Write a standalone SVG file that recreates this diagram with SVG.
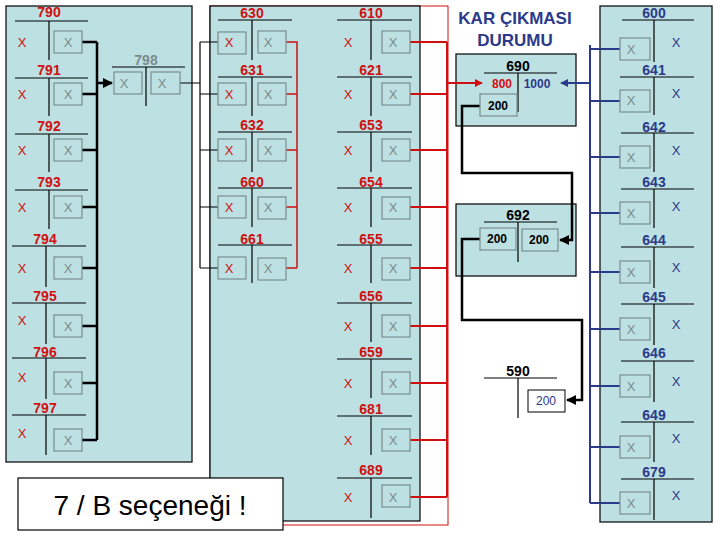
<svg xmlns="http://www.w3.org/2000/svg" width="720" height="540" viewBox="0 0 720 540">
<defs>
<style>
.pan{fill:#bde0e3;stroke:#000;stroke-width:1.2}
.ln{stroke:#000;stroke-width:1.2;fill:none}
.bx{fill:#bde0e3;stroke:#7a8c8e;stroke-width:1.2}
.lbR{font:bold 14px "Liberation Sans",Arial,sans-serif;fill:#d01010;text-anchor:middle}
.lbB{font:bold 14px "Liberation Sans",Arial,sans-serif;fill:#2b3a8a;text-anchor:middle}
.lbK{font:bold 14px "Liberation Sans",Arial,sans-serif;fill:#000;text-anchor:middle}
.lbG{font:bold 14px "Liberation Sans",Arial,sans-serif;fill:#7a8c8e;text-anchor:middle}
.xr{font:13px "Liberation Sans",Arial,sans-serif;fill:#d01010;text-anchor:middle}
.xg{font:13px "Liberation Sans",Arial,sans-serif;fill:#7a8c8e;text-anchor:middle}
.xb{font:13px "Liberation Sans",Arial,sans-serif;fill:#2b3a8a;text-anchor:middle}
.bk{stroke:#000;stroke-width:2.5;fill:none}
.rd{stroke:#d01010;stroke-width:2;fill:none}
.bl{stroke:#2b3a8a;stroke-width:2;fill:none}
</style>
<marker id="ak" viewBox="0 0 10 10" refX="9" refY="5" markerWidth="4" markerHeight="4" orient="auto"><path d="M0,0L10,5L0,10z" fill="#000"/></marker>
<marker id="ar" viewBox="0 0 10 10" refX="9" refY="5" markerWidth="4" markerHeight="4" orient="auto"><path d="M0,0L10,5L0,10z" fill="#d01010"/></marker>
<marker id="ab" viewBox="0 0 10 10" refX="9" refY="5" markerWidth="4" markerHeight="4" orient="auto"><path d="M0,0L10,5L0,10z" fill="#2b3a8a"/></marker>
</defs>
<rect width="720" height="540" fill="#fff"/>
<rect x="210" y="6" width="238" height="519" fill="none" stroke="#d01010" stroke-width="1"/>
<rect class="pan" x="6" y="6" width="186" height="456"/>
<rect class="pan" x="210" y="6" width="210" height="515"/>
<rect class="pan" x="600" y="6" width="112" height="516"/>
<rect class="pan" x="456" y="54" width="120" height="72"/>
<rect class="pan" x="456" y="204" width="120" height="72"/>

<g id="connectors">
<path class="bk" d="M97,42V440M82,42H97M82,94H97M82,150H97M82,207H97M82,268H97M82,326H97M82,383H97M82,440H97"/>
<path class="bk" d="M97,83H112" marker-end="url(#ak)"/>
<path class="ln" d="M180,83H200M200,42V268M200,42H218M200,94H218M200,150H218M200,207H218M200,268H218"/>
<path class="rd" style="stroke-width:1.5" d="M286,42H297V268M286,94H297M286,150H297M286,207H297M286,268H297"/>
<path class="rd" d="M447,42V497M410,42H447M410,94H447M410,150H447M410,207H447M410,268H447M410,326H447M410,383H447M410,440H447M410,497H447"/>
<path class="rd" d="M447,83H482" marker-end="url(#ar)"/>
<path class="bl" d="M590,45V503M620,49H590M620,101H590M620,157H590M620,213H590M620,272H590M620,329H590M620,386H590M620,447H590M620,503H590"/>
<path class="bl" d="M590,83H561" marker-end="url(#ab)"/>
<path class="bk" d="M480,106H462V173H572V240H560" marker-end="url(#ak)"/>
<path class="bk" d="M480,239H462V320H582V400H567" marker-end="url(#ak)"/>
</g>

<g id="left">
<g id="n790"><text class="lbR" x="49" y="17">790</text><path class="ln" d="M15,21H88M49,21V60"/><text class="xr" x="22" y="47">X</text><rect class="bx" x="54" y="31" width="28" height="22"/><text class="xg" x="68" y="47">X</text></g>
<g id="n791"><text class="lbR" x="49" y="75">791</text><path class="ln" d="M15,78H88M49,78V116"/><text class="xr" x="22" y="99">X</text><rect class="bx" x="54" y="83" width="28" height="22"/><text class="xg" x="68" y="99">X</text></g>
<g id="n792"><text class="lbR" x="49" y="131">792</text><path class="ln" d="M15,134H88M49,134V172"/><text class="xr" x="22" y="155">X</text><rect class="bx" x="54" y="139" width="28" height="22"/><text class="xg" x="68" y="155">X</text></g>
<g id="n793"><text class="lbR" x="49" y="187">793</text><path class="ln" d="M15,190H88M49,190V229"/><text class="xr" x="22" y="212">X</text><rect class="bx" x="54" y="196" width="28" height="22"/><text class="xg" x="68" y="212">X</text></g>
<g id="n794"><text class="lbR" x="45" y="244">794</text><path class="ln" d="M12,246H86M46,246V287"/><text class="xr" x="22" y="273">X</text><rect class="bx" x="54" y="257" width="28" height="22"/><text class="xg" x="68" y="273">X</text></g>
<g id="n795"><text class="lbR" x="45" y="301">795</text><path class="ln" d="M12,303H86M46,303V344"/><text class="xr" x="22" y="325">X</text><rect class="bx" x="54" y="315" width="28" height="22"/><text class="xg" x="68" y="331">X</text></g>
<g id="n796"><text class="lbR" x="45" y="357">796</text><path class="ln" d="M12,358H86M46,358V399"/><text class="xr" x="22" y="382">X</text><rect class="bx" x="54" y="372" width="28" height="22"/><text class="xg" x="68" y="388">X</text></g>
<g id="n797"><text class="lbR" x="45" y="413">797</text><path class="ln" d="M12,415H86M46,415V455"/><text class="xr" x="22" y="438">X</text><rect class="bx" x="54" y="429" width="28" height="22"/><text class="xg" x="68" y="445">X</text></g>
<g id="n798"><text class="lbG" x="146" y="65">798</text><path class="ln" d="M112,67H185M146,67V106"/><rect class="bx" x="114" y="72" width="28" height="22"/><text class="xg" x="124" y="88">X</text><rect class="bx" x="151" y="72" width="29" height="22"/><text class="xg" x="162" y="88">X</text></g>
</g>

<g id="mid">
<g id="n630"><text class="lbR" x="252" y="18">630</text><path class="ln" d="M218,20H292M252,20V60"/><rect class="bx" x="218" y="32" width="28" height="22"/><text class="xr" x="229" y="47">X</text><rect class="bx" x="258" y="31" width="28" height="22"/><text class="xg" x="268" y="47">X</text></g>
<g id="n631"><text class="lbR" x="252" y="75">631</text><path class="ln" d="M218,77H292M252,77V116"/><rect class="bx" x="218" y="83" width="28" height="22"/><text class="xr" x="229" y="99">X</text><rect class="bx" x="258" y="83" width="28" height="22"/><text class="xg" x="268" y="99">X</text></g>
<g id="n632"><text class="lbR" x="252" y="130">632</text><path class="ln" d="M218,132H292M252,132V172"/><rect class="bx" x="218" y="139" width="28" height="22"/><text class="xr" x="229" y="155">X</text><rect class="bx" x="258" y="139" width="28" height="22"/><text class="xg" x="268" y="155">X</text></g>
<g id="n660"><text class="lbR" x="252" y="187">660</text><path class="ln" d="M218,188H292M252,188V227"/><rect class="bx" x="218" y="196" width="28" height="22"/><text class="xr" x="229" y="212">X</text><rect class="bx" x="258" y="197" width="28" height="22"/><text class="xg" x="268" y="212">X</text></g>
<g id="n661"><text class="lbR" x="252" y="244">661</text><path class="ln" d="M218,245H292M252,245V283"/><rect class="bx" x="218" y="257" width="28" height="22"/><text class="xr" x="229" y="273">X</text><rect class="bx" x="258" y="258" width="28" height="22"/><text class="xg" x="268" y="273">X</text></g>
<g id="n610"><text class="lbR" x="371" y="18">610</text><path class="ln" d="M337,20H412M371,20V60"/><text class="xr" x="348" y="47">X</text><rect class="bx" x="382" y="31" width="28" height="22"/><text class="xg" x="393" y="47">X</text></g>
<g id="n621"><text class="lbR" x="371" y="75">621</text><path class="ln" d="M337,77H412M371,77V116"/><text class="xr" x="348" y="99">X</text><rect class="bx" x="382" y="83" width="28" height="22"/><text class="xg" x="393" y="99">X</text></g>
<g id="n653"><text class="lbR" x="371" y="130">653</text><path class="ln" d="M337,132H412M371,132V172"/><text class="xr" x="348" y="155">X</text><rect class="bx" x="382" y="139" width="28" height="22"/><text class="xg" x="393" y="155">X</text></g>
<g id="n654"><text class="lbR" x="371" y="187">654</text><path class="ln" d="M337,188H412M371,188V227"/><text class="xr" x="348" y="212">X</text><rect class="bx" x="382" y="197" width="28" height="22"/><text class="xg" x="393" y="212">X</text></g>
<g id="n655"><text class="lbR" x="371" y="244">655</text><path class="ln" d="M337,245H412M371,245V283"/><text class="xr" x="348" y="273">X</text><rect class="bx" x="382" y="258" width="28" height="22"/><text class="xg" x="393" y="273">X</text></g>
<g id="n656"><text class="lbR" x="371" y="301">656</text><path class="ln" d="M337,303H412M371,303V342"/><text class="xr" x="348" y="331">X</text><rect class="bx" x="382" y="315" width="28" height="22"/><text class="xg" x="393" y="331">X</text></g>
<g id="n659"><text class="lbR" x="371" y="357">659</text><path class="ln" d="M337,359H412M371,359V398"/><text class="xr" x="348" y="388">X</text><rect class="bx" x="382" y="372" width="28" height="22"/><text class="xg" x="393" y="388">X</text></g>
<g id="n681"><text class="lbR" x="371" y="414">681</text><path class="ln" d="M337,416H412M371,416V455"/><text class="xr" x="348" y="445">X</text><rect class="bx" x="382" y="429" width="28" height="22"/><text class="xg" x="393" y="445">X</text></g>
<g id="n689"><text class="lbR" x="371" y="475">689</text><path class="ln" d="M337,478H412M371,478V518"/><text class="xr" x="348" y="502">X</text><rect class="bx" x="382" y="485" width="28" height="22"/><text class="xg" x="393" y="502">X</text></g>
</g>

<g id="title"><text x="515" y="24" style="font:bold 17px 'Liberation Sans',Arial,sans-serif;fill:#2b3a8a;text-anchor:middle">KAR ÇIKMASI</text><text x="515" y="46" style="font:bold 17px 'Liberation Sans',Arial,sans-serif;fill:#2b3a8a;text-anchor:middle">DURUMU</text></g>

<g id="n690"><text class="lbK" x="518" y="71">690</text><path class="ln" d="M484,73H557M518,73V112"/><text x="502" y="88" style="font:bold 12px 'Liberation Sans',Arial,sans-serif;fill:#d01010;text-anchor:middle">800</text><text x="537" y="88" style="font:bold 12px 'Liberation Sans',Arial,sans-serif;fill:#2b3a8a;text-anchor:middle">1000</text><rect class="bx" x="480" y="94" width="37" height="22"/><text x="498" y="110" style="font:bold 12px 'Liberation Sans',Arial,sans-serif;fill:#000;text-anchor:middle">200</text></g>
<g id="n692"><text class="lbK" x="518" y="220">692</text><path class="ln" d="M484,222H557M518,222V262"/><rect class="bx" x="480" y="228" width="36" height="22"/><text x="497" y="243" style="font:bold 12px 'Liberation Sans',Arial,sans-serif;fill:#000;text-anchor:middle">200</text><rect class="bx" x="522" y="229" width="36" height="22"/><text x="539" y="244" style="font:bold 12px 'Liberation Sans',Arial,sans-serif;fill:#000;text-anchor:middle">200</text></g>
<g id="n590"><text class="lbK" x="518" y="376">590</text><path class="ln" d="M484,378H557M518,378V418"/><rect x="528" y="390" width="37" height="22" fill="#fff" stroke="#000"/><text x="546" y="405" style="font:12px 'Liberation Sans',Arial,sans-serif;fill:#2b3a8a;text-anchor:middle">200</text></g>

<g id="right">
<g id="n600"><text class="lbB" x="654" y="18">600</text><path class="ln" d="M622,20H694M654,20V62"/><rect class="bx" x="620" y="38" width="30" height="22"/><text class="xg" x="631" y="54">X</text><text class="xb" x="676" y="47">X</text></g>
<g id="n641"><text class="lbB" x="654" y="75">641</text><path class="ln" d="M620,77H694M654,77V115"/><rect class="bx" x="620" y="90" width="30" height="22"/><text class="xg" x="631" y="105">X</text><text class="xb" x="676" y="98">X</text></g>
<g id="n642"><text class="lbB" x="654" y="132">642</text><path class="ln" d="M621,133H694M654,133V172"/><rect class="bx" x="620" y="146" width="30" height="22"/><text class="xg" x="631" y="162">X</text><text class="xb" x="676" y="155">X</text></g>
<g id="n643"><text class="lbB" x="654" y="187">643</text><path class="ln" d="M621,189H694M654,189V228"/><rect class="bx" x="620" y="202" width="30" height="22"/><text class="xg" x="631" y="218">X</text><text class="xb" x="676" y="211">X</text></g>
<g id="n644"><text class="lbB" x="654" y="245">644</text><path class="ln" d="M621,247H694M654,247V288"/><rect class="bx" x="620" y="261" width="30" height="22"/><text class="xg" x="631" y="277">X</text><text class="xb" x="676" y="272">X</text></g>
<g id="n645"><text class="lbB" x="654" y="302">645</text><path class="ln" d="M621,304H694M654,304V345"/><rect class="bx" x="620" y="318" width="30" height="22"/><text class="xg" x="631" y="334">X</text><text class="xb" x="676" y="329">X</text></g>
<g id="n646"><text class="lbB" x="654" y="358">646</text><path class="ln" d="M621,361H694M654,361V402"/><rect class="bx" x="620" y="375" width="30" height="22"/><text class="xg" x="631" y="391">X</text><text class="xb" x="676" y="386">X</text></g>
<g id="n649"><text class="lbB" x="654" y="420">649</text><path class="ln" d="M621,422H694M654,422V462"/><rect class="bx" x="620" y="436" width="30" height="22"/><text class="xg" x="631" y="452">X</text><text class="xb" x="676" y="443">X</text></g>
<g id="n679"><text class="lbB" x="654" y="477">679</text><path class="ln" d="M621,479H694M654,479V520"/><rect class="bx" x="620" y="492" width="30" height="22"/><text class="xg" x="631" y="508">X</text><text class="xb" x="676" y="500">X</text></g>
</g>

<g id="note"><rect x="18" y="478" width="265" height="52" fill="#fff" stroke="#000" stroke-width="1.2"/><text x="150" y="515" style="font:28px 'Liberation Sans',Arial,sans-serif;fill:#000;text-anchor:middle">7 / B seçeneği !</text></g>
</svg>
